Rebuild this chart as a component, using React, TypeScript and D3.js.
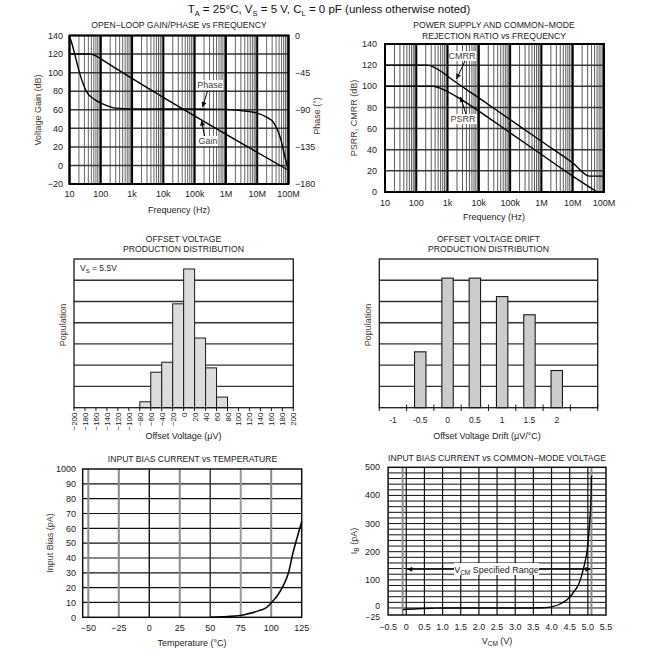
import React from 'react';
import * as d3 from 'd3';

const FONT = '"Liberation Sans", Arial, Helvetica, sans-serif';
const TXT = '#222';
const LBL = '#4a3a30';

// ---------- Panel 1: open-loop gain / phase ----------
const freqTicks = [10, 100, 1e3, 1e4, 1e5, 1e6, 1e7, 1e8];
const freqTickLabels = ['10', '100', '1k', '10k', '100k', '1M', '10M', '100M'];
const gainTicks = [140, 120, 100, 80, 60, 40, 20, 0, -20];
const gainTickLabels = ['140', '120', '100', '80', '60', '40', '20', '0', '−20'];
const phaseTicks = [0, -45, -90, -135, -180];
const phaseTickLabels = ['0', '−45', '−90', '−135', '−180'];
const gainFreq = [10, 40, 55, 75, 100, 1e8];
const gainDb = [120, 120, 119.4, 117.5, 114.8, -5.2];
const phaseFreq = [10, 12, 15, 22, 35, 66, 135, 300, 1e3, 1e5, 1e6, 3e6, 1e7, 2e7, 3.4e7, 5.5e7, 7.9e7, 9.6e7];
const phaseDeg = [-1, -10, -24, -48, -68, -78, -84, -88, -89, -89, -89.5, -91, -94, -99, -106, -124, -149, -161];

// ---------- Panel 2: PSRR / CMRR ----------
const rejTicks = [140, 120, 100, 80, 60, 40, 20, 0];
const cmrrFreq = [10, 220, 400, 700, 1e3, 1e4, 1e5, 1e6, 1e7, 3.5e7, 1e8];
const cmrrDb = [120, 120, 117.5, 113, 109.5, 89, 68.5, 48, 27.5, 15, 15];
const psrrFreq = [10, 350, 600, 1e3, 2e3, 1e4, 1e5, 1e6, 1e7, 6e7];
const psrrDb = [100, 100, 98, 95, 90, 76.5, 56, 35.5, 15, 0];

// ---------- Panel 3: offset voltage histogram ----------
const offsetBinStart = [-80, -60, -40, -20, 0, 20, 40, 60];
const offsetCounts = [0.28, 1.67, 2.14, 4.89, 6.53, 3.28, 1.875, 0.5];
const offsetTicks = [-200, -180, -160, -140, -120, -100, -80, -60, -40, -20, 0, 20, 40, 60, 80, 100, 120, 140, 160, 180, 200];
const offsetTickLabels = ['−200', '−180', '−160', '−140', '−120', '−100', '−80', '−60', '−40', '−20', '0', '20', '40', '60', '80', '100', '120', '140', '160', '180', '200'];

// ---------- Panel 4: drift histogram ----------
const driftCats = ['-1', '-0.5', '0', '0.5', '1', '1.5', '2', ''];
const driftCounts = [0, 2.63, 6.1, 6.1, 5.23, 4.375, 1.75, 0];

// ---------- Panel 5: bias vs temperature ----------
const tempTicks = [-50, -25, 0, 25, 50, 75, 100, 125];
const tempTickLabels = ['−50', '−25', '0', '25', '50', '75', '100', '125'];
const biasTicks = [0, 10, 20, 30, 40, 50, 60, 70, 80, 90, 100];
const biasTickLabels = ['0', '10', '20', '30', '40', '50', '60', '70', '80', '90', '1000'];
const biasTemp = [50, 60, 70, 75, 80, 90, 96, 100, 105, 110, 114, 118, 121, 125];
const biasPa = [0, 0.3, 0.8, 1.3, 2.2, 4.5, 6.5, 9.8, 14.5, 21.5, 29.5, 44, 53, 64.5];

// ---------- Panel 6: bias vs VCM ----------
const vcmTicks = [-0.5, 0, 0.5, 1, 1.5, 2, 2.5, 3, 3.5, 4, 4.5, 5, 5.5];
const vcmTickLabels = ['−0.5', '0', '0.5', '1.0', '1.5', '2.0', '2.5', '3.0', '3.5', '4.0', '4.5', '5.0', '5.5'];
const ibTicks = [500, 400, 300, 200, 100, 0, -25];
const ibTickLabels = ['500', '400', '300', '200', '100', '0', '−25'];
const vcmV = [-0.1, 0.3, 0.7, 1.0, 2.0, 3.0, 3.8, 4.0, 4.25, 4.5, 4.6, 4.75, 4.88, 5.0, 5.05, 5.09, 5.1];
const ibPa = [-6, -3, -1, 0, 0, 0, 1, 4, 15, 38, 55, 85, 140, 225, 305, 400, 470];
const vcmRange = [0, 5.1];

function minorLogs(): number[] {
  const out: number[] = [];
  for (let d = 10; d < 1e8; d *= 10) for (let k = 2; k <= 9; k++) out.push(d * k);
  return out;
}

function Panel1() {
  const x = d3.scaleLog().domain([10, 1e8]).range([69.5, 288.5]);
  const y = d3.scaleLinear().domain([-20, 140]).range([184, 35.5]);
  const yp = d3.scaleLinear().domain([-180, 0]).range([184, 35.5]);
  const gain = d3.line<number>().x((_, i) => x(gainFreq[i])).y((d) => y(d)).curve(d3.curveMonotoneX)(gainDb) || '';
  const phase = d3.line<number>().x((_, i) => x(phaseFreq[i])).y((d) => yp(d)).curve(d3.curveMonotoneX)(phaseDeg) || '';
  const [x0, x1] = x.range();
  const [yb, yt] = y.range();
  return (
    <g>
      <text x={179} y={28} textAnchor="middle" fontSize={8.6} fill={TXT}>OPEN−LOOP GAIN/PHASE vs FREQUENCY</text>
      {minorLogs().map((f) => (
        <line key={'m' + f} x1={x(f)} x2={x(f)} y1={yt} y2={yb} stroke="#666" strokeWidth={1} />
      ))}
      {gainTicks.map((g) => (
        <line key={'h' + g} x1={x0} x2={x1} y1={y(g)} y2={y(g)} stroke="#3a3a3a" strokeWidth={1.5} />
      ))}
      {freqTicks.map((f) => (
        <line key={'d' + f} x1={x(f)} x2={x(f)} y1={yt} y2={yb} stroke="#000" strokeWidth={2} />
      ))}
      <rect x={x0} y={yt} width={x1 - x0} height={yb - yt} fill="none" stroke="#000" strokeWidth={2} />
      <path d={gain} fill="none" stroke="#000" strokeWidth={1.4} />
      <path d={phase} fill="none" stroke="#000" strokeWidth={1.4} />
      {gainTicks.map((g, i) => (
        <text key={'gl' + g} x={63} y={y(g) + 3.2} textAnchor="end" fontSize={9} fill={TXT}>{gainTickLabels[i]}</text>
      ))}
      {phaseTicks.map((p, i) => (
        <text key={'pl' + p} x={295} y={yp(p) + 3.2} textAnchor="start" fontSize={9} fill={TXT}>{phaseTickLabels[i]}</text>
      ))}
      {freqTicks.map((f, i) => (
        <text key={'fl' + f} x={x(f)} y={196.5} textAnchor="middle" fontSize={9} fill={TXT}>{freqTickLabels[i]}</text>
      ))}
      <text x={179} y={212.5} textAnchor="middle" fontSize={9} fill={TXT}>Frequency (Hz)</text>
      <text transform="translate(41,110) rotate(-90)" textAnchor="middle" fontSize={9} fill={LBL}>Voltage Gain (dB)</text>
      <text transform="translate(320,116) rotate(-90)" textAnchor="middle" fontSize={9} fill={LBL}>Phase (°)</text>
      <rect x={197} y={80} width={26} height={10} fill="#fff" />
      <text x={210} y={88.3} textAnchor="middle" fontSize={9} fill={LBL}>Phase</text>
      <line x1={207.5} y1={91} x2={202.5} y2={107} stroke="#000" strokeWidth={1} markerEnd="url(#arr)" />
      <rect x={198} y={136} width={20} height={10} fill="#fff" />
      <text x={208} y={144.3} textAnchor="middle" fontSize={9} fill={LBL}>Gain</text>
      <line x1={204.5} y1={136} x2={201.5} y2={120.5} stroke="#000" strokeWidth={1} markerEnd="url(#arr)" />
    </g>
  );
}

function Panel2() {
  const x = d3.scaleLog().domain([10, 1e8]).range([385, 604]);
  const y = d3.scaleLinear().domain([0, 140]).range([192, 44]);
  const cm = d3.line<number>().x((_, i) => x(cmrrFreq[i])).y((d) => y(d)).curve(d3.curveMonotoneX)(cmrrDb) || '';
  const ps = d3.line<number>().x((_, i) => x(psrrFreq[i])).y((d) => y(d)).curve(d3.curveMonotoneX)(psrrDb) || '';
  const [x0, x1] = x.range();
  const [yb, yt] = y.range();
  return (
    <g>
      <text x={494} y={28} textAnchor="middle" fontSize={8.6} fill={TXT}>POWER SUPPLY AND COMMON−MODE</text>
      <text x={494} y={38.5} textAnchor="middle" fontSize={8.6} fill={TXT}>REJECTION RATIO vs FREQUENCY</text>
      {minorLogs().map((f) => (
        <line key={'m' + f} x1={x(f)} x2={x(f)} y1={yt} y2={yb} stroke="#5a5a5a" strokeWidth={1} />
      ))}
      {rejTicks.map((g) => (
        <line key={'h' + g} x1={x0} x2={x1} y1={y(g)} y2={y(g)} stroke="#3a3a3a" strokeWidth={1.5} />
      ))}
      {freqTicks.map((f) => (
        <line key={'d' + f} x1={x(f)} x2={x(f)} y1={yt} y2={yb} stroke="#000" strokeWidth={2} />
      ))}
      <rect x={x0} y={yt} width={x1 - x0} height={yb - yt} fill="none" stroke="#000" strokeWidth={2} />
      <path d={cm} fill="none" stroke="#000" strokeWidth={1.4} />
      <path d={ps} fill="none" stroke="#000" strokeWidth={1.4} />
      {rejTicks.map((g) => (
        <text key={'gl' + g} x={377} y={y(g) + 3.2} textAnchor="end" fontSize={9} fill={TXT}>{String(g)}</text>
      ))}
      {freqTicks.map((f, i) => (
        <text key={'fl' + f} x={x(f)} y={206} textAnchor="middle" fontSize={9} fill={TXT}>{freqTickLabels[i]}</text>
      ))}
      <text x={494} y={220} textAnchor="middle" fontSize={9} fill={TXT}>Frequency (Hz)</text>
      <text transform="translate(357,118) rotate(-90)" textAnchor="middle" fontSize={9} fill={LBL}>PSRR, CMRR (dB)</text>
      <rect x={449} y={51} width={27} height={10} fill="#fff" />
      <text x={462} y={59} textAnchor="middle" fontSize={9} fill={LBL}>CMRR</text>
      <line x1={465} y1={61} x2={456.5} y2={79} stroke="#000" strokeWidth={1} markerEnd="url(#arr)" />
      <rect x={450} y={114} width={27} height={10} fill="#fff" />
      <text x={463} y={122} textAnchor="middle" fontSize={9} fill={LBL}>PSRR</text>
      <line x1={466} y1={114} x2={460.5} y2={97} stroke="#000" strokeWidth={1} markerEnd="url(#arr)" />
    </g>
  );
}

function Panel3() {
  const x = d3.scaleLinear().domain([-200, 200]).range([74, 293.3]);
  const y = d3.scaleLinear().domain([0, 7]).range([407.7, 259]);
  const grid = d3.range(1, 7);
  return (
    <g>
      <text x={183.5} y={241.5} textAnchor="middle" fontSize={8.6} fill={TXT}>OFFSET VOLTAGE</text>
      <text x={183.5} y={252.3} textAnchor="middle" fontSize={8.6} fill={TXT}>PRODUCTION DISTRIBUTION</text>
      {grid.map((g) => (
        <line key={g} x1={74} x2={293.3} y1={y(g)} y2={y(g)} stroke="#333" strokeWidth={1.3} />
      ))}
      {offsetBinStart.map((b, i) => (
        <rect key={b} x={x(b)} y={y(offsetCounts[i])} width={x(b + 20) - x(b)} height={y(0) - y(offsetCounts[i])} fill="#dcdcdc" stroke="#1a1a1a" strokeWidth={1} />
      ))}
      <rect x={74} y={259} width={219.3} height={148.7} fill="none" stroke="#1a1a1a" strokeWidth={1.3} />
      {offsetTicks.map((t) => (
        <line key={'t' + t} x1={x(t)} x2={x(t)} y1={407.7} y2={411} stroke="#1a1a1a" strokeWidth={1} />
      ))}
      {offsetTicks.map((t, i) => (
        <text key={'l' + t} transform={`translate(${x(t) + 3},412.5) rotate(-90)`} textAnchor="end" fontSize={8} fill={TXT}>{offsetTickLabels[i]}</text>
      ))}
      <text x={183.5} y={439} textAnchor="middle" fontSize={9} fill={TXT}>Offset Voltage (μV)</text>
      <text transform="translate(66,325) rotate(-90)" textAnchor="middle" fontSize={9} fill={LBL}>Population</text>
      <text x={80} y={271} fontSize={8.5} fill={TXT}>V<tspan fontSize={6} dy={2}>S</tspan><tspan dy={-2}> = 5.5V</tspan></text>
    </g>
  );
}

function Panel4() {
  const x = d3.scaleBand<string>().domain(driftCats).range([379.3, 597.7]);
  const y = d3.scaleLinear().domain([0, 7]).range([407.7, 259]);
  const bw = x.bandwidth();
  const grid = d3.range(1, 7);
  const bounds = d3.range(0, driftCats.length + 1).map((i) => 379.3 + i * bw);
  return (
    <g>
      <text x={488.5} y={241.5} textAnchor="middle" fontSize={8.6} fill={TXT}>OFFSET VOLTAGE DRIFT</text>
      <text x={488.5} y={252.3} textAnchor="middle" fontSize={8.6} fill={TXT}>PRODUCTION DISTRIBUTION</text>
      {grid.map((g) => (
        <line key={g} x1={379.3} x2={597.7} y1={y(g)} y2={y(g)} stroke="#333" strokeWidth={1.3} />
      ))}
      {driftCats.map((c, i) =>
        driftCounts[i] > 0 ? (
          <rect key={'b' + i} x={(x(c) || 0) + bw / 2 - 5.7} y={y(driftCounts[i])} width={11.4} height={y(0) - y(driftCounts[i])} fill="#cccccc" stroke="#1a1a1a" strokeWidth={1.1} />
        ) : null
      )}
      <rect x={379.3} y={259} width={218.4} height={148.7} fill="none" stroke="#1a1a1a" strokeWidth={1.3} />
      {bounds.map((b, i) => (
        <line key={'t' + i} x1={b} x2={b} y1={404.5} y2={411} stroke="#1a1a1a" strokeWidth={1} />
      ))}
      {driftCats.map((c, i) => (
        <text key={'l' + i} x={(x(c) || 0) + bw / 2} y={423} textAnchor="middle" fontSize={8.5} fill={TXT}>{c}</text>
      ))}
      <text x={487} y={439} textAnchor="middle" fontSize={9} fill={TXT}>Offset Voltage Drift (μV/°C)</text>
      <text transform="translate(371,325) rotate(-90)" textAnchor="middle" fontSize={9} fill={LBL}>Population</text>
    </g>
  );
}

function Panel5() {
  const x = d3.scaleLinear().domain([-50, 125]).range([88.3, 301.7]);
  const y = d3.scaleLinear().domain([0, 100]).range([617.3, 469]);
  const x0 = x(-54.6);
  const line = d3.line<number>().x((_, i) => x(biasTemp[i])).y((d) => y(d)).curve(d3.curveMonotoneX)(biasPa) || '';
  const vColor = ['#8a8a8a', '#8a8a8a', '#111', '#8a8a8a', '#333', '#999', '#8a8a8a'];
  return (
    <g>
      <text x={192.5} y={461.5} textAnchor="middle" fontSize={8.6} fill={TXT}>INPUT BIAS CURRENT vs TEMPERATURE</text>
      {biasTicks.slice(1, -1).map((b) => (
        <line key={'h' + b} x1={x0} x2={x(125)} y1={y(b)} y2={y(b)} stroke="#111" strokeWidth={1.2} />
      ))}
      {tempTicks.slice(0, -1).map((t, i) => (
        <line key={'v' + t} x1={x(t)} x2={x(t)} y1={y(100)} y2={y(0)} stroke={vColor[i]} strokeWidth={vColor[i] === '#111' || vColor[i] === '#333' ? 1.4 : 2} />
      ))}
      <rect x={x0} y={y(100)} width={x(125) - x0} height={y(0) - y(100)} fill="none" stroke="#111" strokeWidth={1.5} />
      <path d={line} fill="none" stroke="#000" strokeWidth={1.5} />
      {biasTicks.map((b, i) => (
        <text key={'bl' + b} x={76} y={y(b) + 3.2} textAnchor="end" fontSize={9} fill={TXT}>{biasTickLabels[i]}</text>
      ))}
      {tempTicks.map((t, i) => (
        <text key={'tl' + t} x={x(t)} y={631} textAnchor="middle" fontSize={9} fill={TXT}>{tempTickLabels[i]}</text>
      ))}
      <text x={192} y={645.5} textAnchor="middle" fontSize={9} fill={TXT}>Temperature (°C)</text>
      <text transform="translate(53,543) rotate(-90)" textAnchor="middle" fontSize={9} fill={LBL}>Input Bias (pA)</text>
    </g>
  );
}

function Panel6() {
  const x = d3.scaleLinear().domain([-0.5, 5.5]).range([388.1, 606]);
  const y = d3.scaleLinear().domain([-25, 500]).range([615, 467.3]);
  const line = d3.line<number>().x((_, i) => x(vcmV[i])).y((d) => y(d)).curve(d3.curveMonotoneX)(ibPa) || '';
  const hGrid = d3.range(0, 500, 20);
  const vGrid = vcmTicks.slice(1, -1);
  const ay = 569.3;
  const labelShift = (b: number) => (b === 0 ? -1.8 : b === -25 ? 1.6 : 0);
  return (
    <g>
      <text x={497} y={460.5} textAnchor="middle" fontSize={8.6} fill={TXT}>INPUT BIAS CURRENT vs COMMON−MODE VOLTAGE</text>
      {hGrid.map((h) => (
        <line key={'h' + h} x1={x(-0.5)} x2={x(5.5)} y1={y(h)} y2={y(h)} stroke="#111" strokeWidth={1} />
      ))}
      {vGrid.map((v) => (
        <line key={'v' + v} x1={x(v)} x2={x(v)} y1={y(500)} y2={y(-25)} stroke="#111" strokeWidth={1.2} />
      ))}
      {[-0.1, 5.1].map((v) => (
        <line key={'g' + v} x1={x(v)} x2={x(v)} y1={y(500)} y2={y(-25)} stroke="#8a8a8a" strokeWidth={2} />
      ))}
      <rect x={x(-0.5)} y={y(500)} width={x(5.5) - x(-0.5)} height={y(-25) - y(500)} fill="none" stroke="#111" strokeWidth={1.5} />
      <line x1={x(vcmRange[0]) + 1} x2={x(vcmRange[1]) - 1} y1={ay} y2={ay} stroke="#000" strokeWidth={1} markerStart="url(#arrS)" markerEnd="url(#arr)" />
      <rect x={454} y={563} width={85} height={12} fill="#fff" />
      <text x={496.5} y={572.5} textAnchor="middle" fontSize={9} fill={TXT}>V<tspan fontSize={6.5} dy={2}>CM</tspan><tspan dy={-2}> Specified Range</tspan></text>
      <path d={line} fill="none" stroke="#000" strokeWidth={1.4} />
      {ibTicks.map((b, i) => (
        <text key={'bl' + b} x={380} y={y(b) + 3 + labelShift(b)} textAnchor="end" fontSize={b === 0 || b === -25 ? 8.5 : 9} fill={TXT}>{ibTickLabels[i]}</text>
      ))}
      {vcmTicks.map((v, i) => (
        <text key={'vl' + v} x={x(v)} y={630} textAnchor="middle" fontSize={9} fill={TXT}>{vcmTickLabels[i]}</text>
      ))}
      <text x={497} y={643.5} textAnchor="middle" fontSize={9} fill={TXT}>V<tspan fontSize={6.5} dy={2}>CM</tspan><tspan dy={-2}> (V)</tspan></text>
      <text transform="translate(357,541) rotate(-90)" textAnchor="middle" fontSize={9} fill={LBL}>I<tspan fontSize={6.5} dy={2}>B</tspan><tspan dy={-2}> (pA)</tspan></text>
    </g>
  );
}

export default function App() {
  return (
    <svg width={656} height={656} viewBox="0 0 656 656" style={{ position: 'absolute', left: 0, top: 0, background: '#fff' }} fontFamily={FONT}>
      <defs>
        <marker id="arr" viewBox="0 0 10 10" refX={10} refY={5} markerWidth={6} markerHeight={5} markerUnits="userSpaceOnUse" orient="auto">
          <path d="M0,0L10,5L0,10z" fill="#000" />
        </marker>
        <marker id="arrS" viewBox="0 0 10 10" refX={0} refY={5} markerWidth={6} markerHeight={5} markerUnits="userSpaceOnUse" orient="auto">
          <path d="M10,0L0,5L10,10z" fill="#000" />
        </marker>
      </defs>
      <rect x={0} y={0} width={656} height={656} fill="#fff" />
      <text x={329} y={13} textAnchor="middle" fontSize={11.5} fill="#111">
        T<tspan fontSize={7.5} dy={3}>A</tspan>
        <tspan dy={-3}> = 25°C, V</tspan>
        <tspan fontSize={7.5} dy={3}>S</tspan>
        <tspan dy={-3}> = 5 V, C</tspan>
        <tspan fontSize={7.5} dy={3}>L</tspan>
        <tspan dy={-3}> = 0 pF (unless otherwise noted)</tspan>
      </text>
      <Panel1 />
      <Panel2 />
      <Panel3 />
      <Panel4 />
      <Panel5 />
      <Panel6 />
    </svg>
  );
}
